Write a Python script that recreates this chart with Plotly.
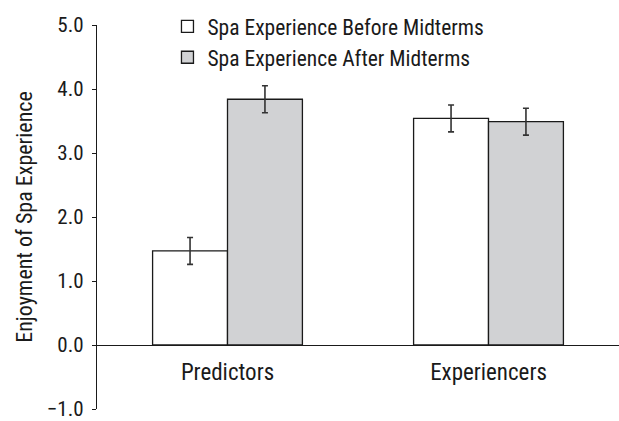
import plotly.graph_objects as go

# Group labels and series values
groups = ["Predictors", "Experiencers"]
before_means = [1.47, 3.54]
before_err = [0.21, 0.21]
after_means = [3.84, 3.49]
after_err = [0.21, 0.21]
series_names = ["Spa Experience Before Midterms", "Spa Experience After Midterms"]
y_ticks = [-1.0, 0.0, 1.0, 2.0, 3.0, 4.0, 5.0]

FONT = "Liberation Sans Narrow, Roboto Condensed, Arial Narrow, Liberation Sans, sans-serif"
INK = "#1a1a1a"

fig = go.Figure()
fig.add_trace(go.Bar(
    x=groups, y=before_means, name=series_names[0],
    marker=dict(color="white", line=dict(color=INK, width=1.3)),
    error_y=dict(type="data", array=before_err, color="#333333", thickness=1.6, width=3),
))
fig.add_trace(go.Bar(
    x=groups, y=after_means, name=series_names[1],
    marker=dict(color="#d1d2d4", line=dict(color=INK, width=1.3)),
    error_y=dict(type="data", array=after_err, color="#333333", thickness=1.6, width=3),
))

fig.update_layout(
    width=619, height=421,
    margin=dict(l=97, r=0, t=25, b=12, autoexpand=False),
    paper_bgcolor="white", plot_bgcolor="white",
    barmode="group", bargap=0.426, bargroupgap=0,
    font=dict(family=FONT, size=22, color=INK),
    showlegend=True,
    legend=dict(
        x=0.135, y=1.05, xanchor="left", yanchor="top",
        bgcolor="rgba(0,0,0,0)", font=dict(size=21.5), tracegroupgap=0,
    ),
    xaxis=dict(
        range=[-0.5, 1.5], showline=True, linecolor=INK, linewidth=1.3,
        showgrid=False, zeroline=False, ticks="", anchor="free", position=1/6,
        tickfont=dict(size=23), ticklabelstandoff=6, automargin=False,
    ),
    yaxis=dict(
        range=[-1.0, 5.0], tickvals=y_ticks, tickformat=".1f",
        showline=True, linecolor=INK, linewidth=1.3,
        ticks="outside", ticklen=4, tickcolor=INK, tickwidth=1.3,
        showgrid=False, zeroline=False, tickfont=dict(size=21),
        ticklabelstandoff=4, ticklabeloverflow="allow", automargin=False,
        title=dict(text="Enjoyment of Spa Experience", font=dict(size=22), standoff=8),
    ),
)

fig.write_html("out.html")
